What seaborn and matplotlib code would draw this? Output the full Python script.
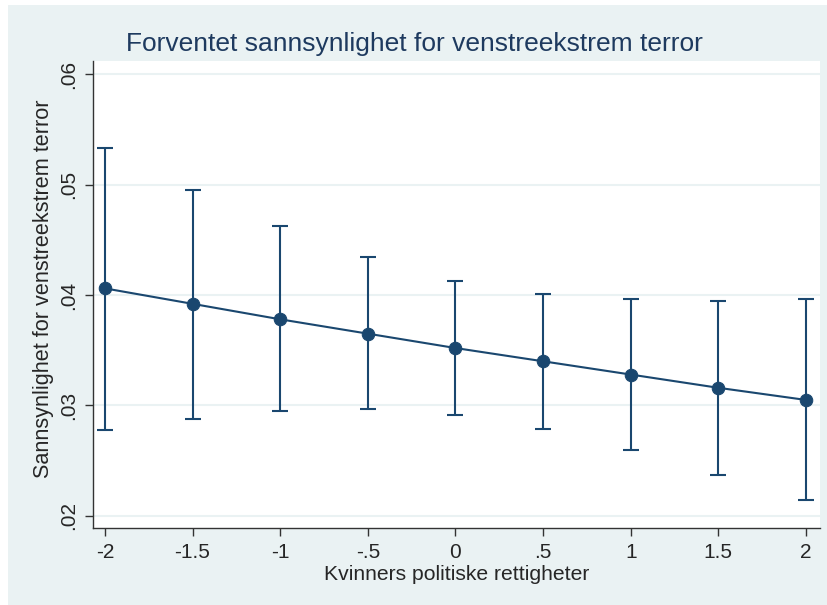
#!/usr/bin/env python3
"""
Predicted probability of left-wing terror by women's political rights (margins plot)
"""

import numpy as np
import pandas as pd
import matplotlib.pyplot as plt
import matplotlib.patches as mpatches
import seaborn as sns

# Margins estimates
x_vals = [-2, -1.5, -1, -0.5, 0, 0.5, 1, 1.5, 2]
margin = [0.0406, 0.0392, 0.0378, 0.0365, 0.0352, 0.0340, 0.0328, 0.0316, 0.0305]
ci_low = [0.0278, 0.0288, 0.0295, 0.0297, 0.0291, 0.0279, 0.0260, 0.0237, 0.0214]
ci_high = [0.0533, 0.0495, 0.0462, 0.0434, 0.0413, 0.0401, 0.0396, 0.0395, 0.0396]

x_ticks = [-2, -1.5, -1, -0.5, 0, 0.5, 1, 1.5, 2]
x_ticklabels = ['-2', '-1.5', '-1', '-.5', '0', '.5', '1', '1.5', '2']
y_ticks = [0.02, 0.03, 0.04, 0.05, 0.06]
y_ticklabels = ['.02', '.03', '.04', '.05', '.06']

sns.set_style("white")
plt.rcParams['font.family'] = ['Liberation Sans', 'DejaVu Sans']

NAVY = '#1a476f'
BG = '#eaf2f3'

df = pd.DataFrame({'x': x_vals, 'margin': margin, 'lo': ci_low, 'hi': ci_high})

fig = plt.figure(figsize=(8.28, 6.05), dpi=100)
fig.patch.set_facecolor('white')
fig.patches.append(mpatches.Rectangle((8 / 828, 0), 1, 1 - 5 / 605, transform=fig.transFigure,
                                      facecolor=BG, edgecolor='none', zorder=-10))

ax = fig.add_axes([93 / 828, 1 - 528 / 605, (820 - 93) / 828, (528 - 61) / 605])
ax.set_facecolor('white')

# Gridlines
for yt in y_ticks:
    ax.axhline(yt, color='#eaf2f3', linewidth=1.5, zorder=0)

# Confidence intervals
ax.errorbar(df['x'], df['margin'],
            yerr=[df['margin'] - df['lo'], df['hi'] - df['margin']],
            fmt='none', ecolor=NAVY, elinewidth=1.5, capsize=6, capthick=1.5, zorder=2)
sns.lineplot(data=df, x='x', y='margin', color=NAVY, linewidth=1.5,
             marker='o', markersize=9, markeredgecolor=NAVY, ax=ax, zorder=3)

ax.set_xlim(-2.068, 2.08)
ax.set_ylim(0.01891, 0.06118)
ax.set_xticks(x_ticks)
ax.set_xticklabels(x_ticklabels, fontsize=15)
ax.set_yticks(y_ticks)
ax.set_yticklabels(y_ticklabels, fontsize=15, rotation=90, va='center')
ax.tick_params(axis='both', direction='out', length=6, width=1, color='#333333', pad=5, bottom=True, left=True)

for side in ['top', 'right']:
    ax.spines[side].set_visible(False)
for side in ['left', 'bottom']:
    ax.spines[side].set_color('#333333')
    ax.spines[side].set_linewidth(1)

ax.set_xlabel('Kvinners politiske rettigheter', fontsize=15.2, labelpad=2)
ax.set_ylabel('Sannsynlighet for venstreekstrem terror', fontsize=15.6)
ax.yaxis.set_label_coords(-0.054, 0.512)
fig.text(0.5, 1 - 44 / 605, 'Forventet sannsynlighet for venstreekstrem terror',
         ha='center', va='center', fontsize=19, color='#1e3a5f')

plt.savefig('out.png', dpi=100)
plt.close()
